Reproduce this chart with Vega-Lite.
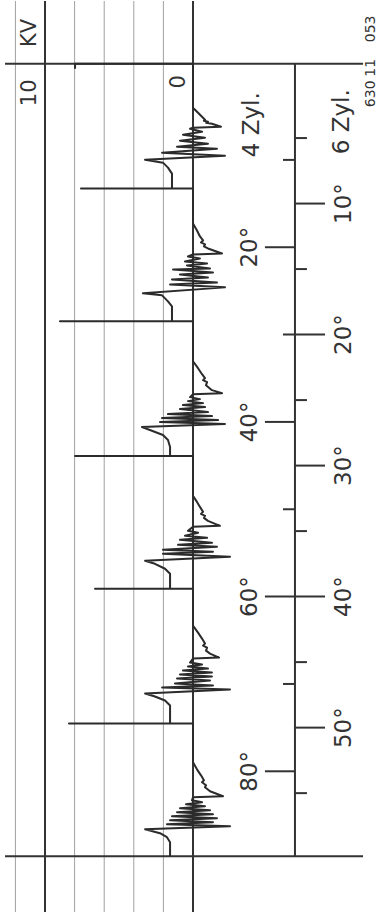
{
  "$schema": "https://vega.github.io/schema/vega-lite/v6.json",
  "width": 379,
  "height": 913,
  "autosize": {"type": "fit", "contains": "padding"},
  "padding": 0,
  "background": "white",
  "config": {"view": {"stroke": null}, "axis": {"disable": true}},
  "datasets": {
    "gridLight": [
      {"kv": 12, "deg": -5.461, "deg2": 64.073},
      {"kv": 8, "deg": -5.461, "deg2": 64.073},
      {"kv": 6, "deg": -5.461, "deg2": 64.073},
      {"kv": 4, "deg": -5.461, "deg2": 64.073},
      {"kv": 2, "deg": -5.461, "deg2": 64.073}
    ],
    "gridDark": [
      {"kv": 10, "deg": -5.461, "deg2": 64.073},
      {"kv": 0, "deg": -5.461, "deg2": 64.073}
    ],
    "borders": [
      {"kv": 12.7, "kv2": -11.49, "deg": -0.663},
      {"kv": 12.7, "kv2": -11.49, "deg": 59.81}
    ],
    "axisLine": [
      {"kv": -6.89, "deg": -0.663, "deg2": 59.81}
    ],
    "ticks": [
      {"kv": -6.89, "kv2": -8.92, "deg": 10},
      {"kv": -6.89, "kv2": -8.92, "deg": 30},
      {"kv": -6.89, "kv2": -8.92, "deg": 50},
      {"kv": -6.08, "kv2": -8.92, "deg": 20},
      {"kv": -4.86, "kv2": -8.92, "deg": 40},
      {"kv": -4.86, "kv2": -6.89, "deg": 13.333},
      {"kv": -4.86, "kv2": -6.89, "deg": 26.667},
      {"kv": -4.86, "kv2": -6.89, "deg": 53.333},
      {"kv": -6.08, "kv2": -6.89, "deg": 6.667},
      {"kv": -6.08, "kv2": -6.89, "deg": 33.333},
      {"kv": -6.08, "kv2": -6.89, "deg": 46.667},
      {"kv": -6.89, "kv2": -7.7, "deg": 5},
      {"kv": -6.89, "kv2": -7.7, "deg": 15},
      {"kv": -6.89, "kv2": -7.7, "deg": 25},
      {"kv": -6.89, "kv2": -7.7, "deg": 35},
      {"kv": -6.89, "kv2": -7.7, "deg": 45},
      {"kv": -6.89, "kv2": -7.7, "deg": 55}
    ],
    "trace": [
      {"i": 1, "kv": 7.97, "deg": -0.282},
      {"i": 2, "kv": 7.97, "deg": -0.663},
      {"i": 3, "kv": 0, "deg": -0.663},
      {"i": 4, "kv": 0, "deg": 2.688},
      {"i": 5, "kv": -0.34, "deg": 3.069},
      {"i": 6, "kv": -0.61, "deg": 3.374},
      {"i": 7, "kv": -0.81, "deg": 3.602},
      {"i": 8, "kv": -0.74, "deg": 3.679},
      {"i": 9, "kv": -1.01, "deg": 3.755},
      {"i": 10, "kv": -0.88, "deg": 3.831},
      {"i": 11, "kv": -1.28, "deg": 3.907},
      {"i": 12, "kv": -1.89, "deg": 4.136},
      {"i": 13, "kv": 0, "deg": 4.212},
      {"i": 14, "kv": 0.2, "deg": 4.288},
      {"i": 15, "kv": -0.61, "deg": 4.516},
      {"i": 16, "kv": 0.68, "deg": 4.745},
      {"i": 17, "kv": -0.81, "deg": 4.973},
      {"i": 18, "kv": 0.88, "deg": 5.202},
      {"i": 19, "kv": -1.01, "deg": 5.43},
      {"i": 20, "kv": 1.08, "deg": 5.659},
      {"i": 21, "kv": -1.62, "deg": 5.811},
      {"i": 22, "kv": 2.09, "deg": 6.116},
      {"i": 23, "kv": -2.16, "deg": 6.344},
      {"i": 24, "kv": 3.24, "deg": 6.649},
      {"i": 25, "kv": 2.03, "deg": 6.877},
      {"i": 26, "kv": 1.69, "deg": 7.258},
      {"i": 27, "kv": 1.42, "deg": 7.715},
      {"i": 28, "kv": 1.42, "deg": 8.858},
      {"i": 29, "kv": 7.57, "deg": 8.858},
      {"i": 30, "kv": 0, "deg": 8.858},
      {"i": 31, "kv": 0, "deg": 11.523},
      {"i": 32, "kv": -0.27, "deg": 12.056},
      {"i": 33, "kv": -0.47, "deg": 12.513},
      {"i": 34, "kv": -0.68, "deg": 12.818},
      {"i": 35, "kv": -0.54, "deg": 12.97},
      {"i": 36, "kv": -0.81, "deg": 13.122},
      {"i": 37, "kv": -0.74, "deg": 13.275},
      {"i": 38, "kv": -1.01, "deg": 13.427},
      {"i": 39, "kv": -1.96, "deg": 13.808},
      {"i": 40, "kv": 0, "deg": 13.884},
      {"i": 41, "kv": 0.34, "deg": 14.036},
      {"i": 42, "kv": -0.47, "deg": 14.189},
      {"i": 43, "kv": 0.54, "deg": 14.417},
      {"i": 44, "kv": -0.95, "deg": 14.569},
      {"i": 45, "kv": 0.41, "deg": 14.722},
      {"i": 46, "kv": -1.15, "deg": 14.95},
      {"i": 47, "kv": 1.35, "deg": 15.026},
      {"i": 48, "kv": -1.35, "deg": 15.255},
      {"i": 49, "kv": 0.88, "deg": 15.407},
      {"i": 50, "kv": -1.01, "deg": 15.636},
      {"i": 51, "kv": 1.42, "deg": 15.788},
      {"i": 52, "kv": -1.62, "deg": 16.017},
      {"i": 53, "kv": 1.55, "deg": 16.169},
      {"i": 54, "kv": -2.16, "deg": 16.397},
      {"i": 55, "kv": 3.38, "deg": 16.854},
      {"i": 56, "kv": 2.09, "deg": 17.007},
      {"i": 57, "kv": 1.69, "deg": 17.464},
      {"i": 58, "kv": 1.42, "deg": 17.844},
      {"i": 59, "kv": 1.42, "deg": 18.987},
      {"i": 60, "kv": 8.99, "deg": 18.987},
      {"i": 61, "kv": 0, "deg": 18.987},
      {"i": 62, "kv": 0, "deg": 22.033},
      {"i": 63, "kv": -0.34, "deg": 22.566},
      {"i": 64, "kv": -0.61, "deg": 23.023},
      {"i": 65, "kv": -0.81, "deg": 23.328},
      {"i": 66, "kv": -0.68, "deg": 23.48},
      {"i": 67, "kv": -0.95, "deg": 23.633},
      {"i": 68, "kv": -0.88, "deg": 23.861},
      {"i": 69, "kv": -1.28, "deg": 24.242},
      {"i": 70, "kv": -1.96, "deg": 24.47},
      {"i": 71, "kv": 0, "deg": 24.546},
      {"i": 72, "kv": 0.2, "deg": 24.775},
      {"i": 73, "kv": -0.47, "deg": 24.927},
      {"i": 74, "kv": 0.34, "deg": 25.08},
      {"i": 75, "kv": -0.68, "deg": 25.232},
      {"i": 76, "kv": 0.68, "deg": 25.384},
      {"i": 77, "kv": -0.81, "deg": 25.537},
      {"i": 78, "kv": 0.88, "deg": 25.689},
      {"i": 79, "kv": -1.01, "deg": 25.917},
      {"i": 80, "kv": 1.69, "deg": 26.07},
      {"i": 81, "kv": -1.28, "deg": 26.222},
      {"i": 82, "kv": 2.09, "deg": 26.374},
      {"i": 83, "kv": -1.69, "deg": 26.527},
      {"i": 84, "kv": 2.23, "deg": 26.679},
      {"i": 85, "kv": -2.16, "deg": 26.831},
      {"i": 86, "kv": 3.45, "deg": 27.06},
      {"i": 87, "kv": 2.91, "deg": 27.288},
      {"i": 88, "kv": 2.03, "deg": 27.669},
      {"i": 89, "kv": 1.69, "deg": 28.05},
      {"i": 90, "kv": 1.55, "deg": 28.583},
      {"i": 91, "kv": 1.55, "deg": 29.269},
      {"i": 92, "kv": 7.97, "deg": 29.269},
      {"i": 93, "kv": 0, "deg": 29.269},
      {"i": 94, "kv": 0, "deg": 32.315},
      {"i": 95, "kv": -0.27, "deg": 32.772},
      {"i": 96, "kv": -0.47, "deg": 33.153},
      {"i": 97, "kv": -0.68, "deg": 33.533},
      {"i": 98, "kv": -0.54, "deg": 33.686},
      {"i": 99, "kv": -0.81, "deg": 33.838},
      {"i": 100, "kv": -0.74, "deg": 33.991},
      {"i": 101, "kv": -1.01, "deg": 34.219},
      {"i": 102, "kv": -1.82, "deg": 34.6},
      {"i": 103, "kv": 0, "deg": 34.676},
      {"i": 104, "kv": 0.34, "deg": 34.98},
      {"i": 105, "kv": -0.34, "deg": 35.133},
      {"i": 106, "kv": 0.54, "deg": 35.361},
      {"i": 107, "kv": -0.95, "deg": 35.514},
      {"i": 108, "kv": 0.88, "deg": 35.666},
      {"i": 109, "kv": -1.28, "deg": 35.894},
      {"i": 110, "kv": 1.01, "deg": 36.047},
      {"i": 111, "kv": -1.62, "deg": 36.199},
      {"i": 112, "kv": 2.03, "deg": 36.428},
      {"i": 113, "kv": -1.35, "deg": 36.58},
      {"i": 114, "kv": 2.03, "deg": 36.732},
      {"i": 115, "kv": -2.5, "deg": 36.961},
      {"i": 116, "kv": 3.24, "deg": 37.266},
      {"i": 117, "kv": 2.57, "deg": 37.494},
      {"i": 118, "kv": 1.89, "deg": 37.875},
      {"i": 119, "kv": 1.55, "deg": 38.256},
      {"i": 120, "kv": 1.55, "deg": 39.398},
      {"i": 121, "kv": 6.62, "deg": 39.398},
      {"i": 122, "kv": 0, "deg": 39.398},
      {"i": 123, "kv": 0, "deg": 42.216},
      {"i": 124, "kv": -0.34, "deg": 42.749},
      {"i": 125, "kv": -0.61, "deg": 43.206},
      {"i": 126, "kv": -0.81, "deg": 43.587},
      {"i": 127, "kv": -0.68, "deg": 43.739},
      {"i": 128, "kv": -0.95, "deg": 43.892},
      {"i": 129, "kv": -0.88, "deg": 44.12},
      {"i": 130, "kv": -1.15, "deg": 44.349},
      {"i": 131, "kv": -1.76, "deg": 44.653},
      {"i": 132, "kv": 0, "deg": 44.729},
      {"i": 133, "kv": 0.2, "deg": 45.034},
      {"i": 134, "kv": -0.61, "deg": 45.186},
      {"i": 135, "kv": 0.34, "deg": 45.339},
      {"i": 136, "kv": -1.01, "deg": 45.491},
      {"i": 137, "kv": 0.68, "deg": 45.643},
      {"i": 138, "kv": -1.28, "deg": 45.796},
      {"i": 139, "kv": 0.88, "deg": 45.948},
      {"i": 140, "kv": -1.28, "deg": 46.101},
      {"i": 141, "kv": 1.08, "deg": 46.253},
      {"i": 142, "kv": -1.15, "deg": 46.405},
      {"i": 143, "kv": 1.22, "deg": 46.634},
      {"i": 144, "kv": -1.35, "deg": 46.786},
      {"i": 145, "kv": 2.09, "deg": 46.939},
      {"i": 146, "kv": -2.5, "deg": 47.091},
      {"i": 147, "kv": 3.24, "deg": 47.396},
      {"i": 148, "kv": 2.57, "deg": 47.624},
      {"i": 149, "kv": 1.89, "deg": 47.929},
      {"i": 150, "kv": 1.55, "deg": 48.309},
      {"i": 151, "kv": 1.55, "deg": 49.68},
      {"i": 152, "kv": 8.38, "deg": 49.68},
      {"i": 153, "kv": 0, "deg": 49.68},
      {"i": 154, "kv": 0, "deg": 52.65},
      {"i": 155, "kv": -0.27, "deg": 53.184},
      {"i": 156, "kv": -0.54, "deg": 53.641},
      {"i": 157, "kv": -0.74, "deg": 54.02},
      {"i": 158, "kv": -0.61, "deg": 54.173},
      {"i": 159, "kv": -0.88, "deg": 54.401},
      {"i": 160, "kv": -0.81, "deg": 54.554},
      {"i": 161, "kv": -1.15, "deg": 54.859},
      {"i": 162, "kv": -2.03, "deg": 55.239},
      {"i": 163, "kv": 0, "deg": 55.316},
      {"i": 164, "kv": 0.07, "deg": 55.544},
      {"i": 165, "kv": -0.61, "deg": 55.697},
      {"i": 166, "kv": 0.47, "deg": 55.849},
      {"i": 167, "kv": -0.81, "deg": 56.001},
      {"i": 168, "kv": 0.88, "deg": 56.154},
      {"i": 169, "kv": -1.15, "deg": 56.306},
      {"i": 170, "kv": 1.08, "deg": 56.458},
      {"i": 171, "kv": -1.35, "deg": 56.611},
      {"i": 172, "kv": 1.42, "deg": 56.763},
      {"i": 173, "kv": -1.62, "deg": 56.916},
      {"i": 174, "kv": 1.55, "deg": 57.068},
      {"i": 175, "kv": -1.35, "deg": 57.22},
      {"i": 176, "kv": 1.76, "deg": 57.373},
      {"i": 177, "kv": -2.5, "deg": 57.525},
      {"i": 178, "kv": 3.24, "deg": 57.754},
      {"i": 179, "kv": 2.23, "deg": 58.058},
      {"i": 180, "kv": 1.76, "deg": 58.363},
      {"i": 181, "kv": 1.55, "deg": 58.744},
      {"i": 182, "kv": 1.55, "deg": 59.81}
    ],
    "bigText": [
      {"kv": -4.0, "deg": 3.98, "t": "4 Zyl."},
      {"kv": -10.1, "deg": 3.76, "t": "6 Zyl."},
      {"kv": -3.85, "deg": 13.333, "t": "20°"},
      {"kv": -3.85, "deg": 26.667, "t": "40°"},
      {"kv": -3.85, "deg": 40, "t": "60°"},
      {"kv": -3.85, "deg": 53.333, "t": "80°"},
      {"kv": -10.2, "deg": 10, "t": "10°"},
      {"kv": -10.2, "deg": 20, "t": "20°"},
      {"kv": -10.2, "deg": 30, "t": "30°"},
      {"kv": -10.2, "deg": 40, "t": "40°"},
      {"kv": -10.2, "deg": 50, "t": "50°"}
    ],
    "midText": [
      {"kv": 11.0, "deg": 1.55, "t": "10"},
      {"kv": 11.0, "deg": -3.02, "t": "KV"},
      {"kv": 0.95, "deg": 0.71, "t": "0"}
    ],
    "smallText": [
      {"kv": -12.03, "deg": 1.62, "t": "630"},
      {"kv": -12.03, "deg": -0.36, "t": "11"},
      {"kv": -12.03, "deg": -3.33, "t": "053"}
    ]
  },
  "encoding": {
    "x": {"field": "kv", "type": "quantitative", "axis": null,
          "scale": {"domain": [-12.568, 13.041], "reverse": true, "nice": false, "zero": false}},
    "y": {"field": "deg", "type": "quantitative", "axis": null,
          "scale": {"domain": [-5.461, 64.073], "reverse": true, "nice": false, "zero": false}}
  },
  "layer": [
    {"data": {"name": "gridLight"}, "mark": {"type": "rule", "color": "#a0a0a0", "strokeWidth": 1},
     "encoding": {"y2": {"field": "deg2"}}},
    {"data": {"name": "gridDark"}, "mark": {"type": "rule", "color": "#333333", "strokeWidth": 2},
     "encoding": {"y2": {"field": "deg2"}}},
    {"data": {"name": "borders"}, "mark": {"type": "rule", "color": "#333333", "strokeWidth": 2},
     "encoding": {"x2": {"field": "kv2"}}},
    {"data": {"name": "axisLine"}, "mark": {"type": "rule", "color": "#333333", "strokeWidth": 2},
     "encoding": {"y2": {"field": "deg2"}}},
    {"data": {"name": "ticks"}, "mark": {"type": "rule", "color": "#333333", "strokeWidth": 2},
     "encoding": {"x2": {"field": "kv2"}}},
    {"data": {"name": "trace"}, "mark": {"type": "line", "color": "#2b2b2b", "strokeWidth": 2, "strokeJoin": "round"},
     "encoding": {"order": {"field": "i", "type": "quantitative"}}},
    {"data": {"name": "bigText"}, "mark": {"type": "text", "angle": 270, "align": "center", "baseline": "middle",
       "font": "DejaVu Sans", "fontSize": 23, "color": "#333333"},
     "encoding": {"text": {"field": "t"}}},
    {"data": {"name": "midText"}, "mark": {"type": "text", "angle": 270, "align": "center", "baseline": "middle",
       "font": "DejaVu Sans", "fontSize": 21, "color": "#333333"},
     "encoding": {"text": {"field": "t"}}},
    {"data": {"name": "smallText"}, "mark": {"type": "text", "angle": 270, "align": "center", "baseline": "middle",
       "font": "DejaVu Sans", "fontSize": 14, "color": "#333333"},
     "encoding": {"text": {"field": "t"}}}
  ]
}
